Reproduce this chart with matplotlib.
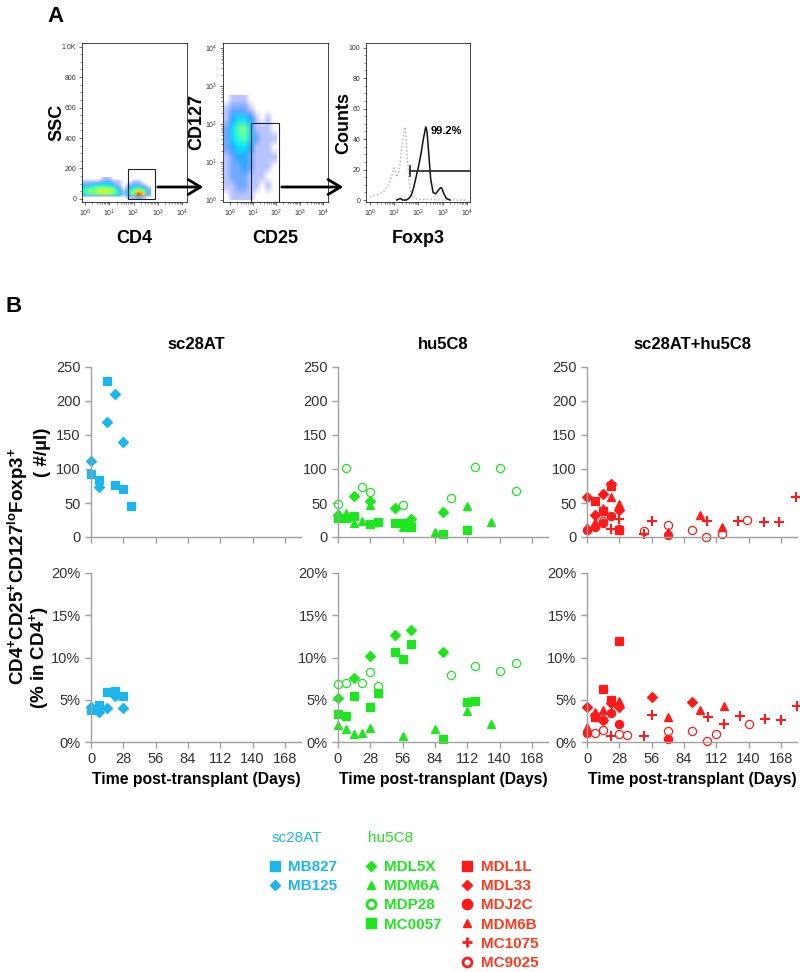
import numpy as np
import matplotlib.pyplot as plt
from matplotlib.lines import Line2D
from matplotlib.patches import Rectangle, FancyArrowPatch

plt.rcParams['font.family'] = ['Liberation Sans', 'DejaVu Sans']
plt.rcParams['mathtext.default'] = 'regular'

W, H = 800, 972

cyan = '#1cb6ec'
green = '#1ee61e'
red = '#ff1a1a'
red_txt = '#ff3a1c'

# ---------------- panel A data ----------------
# SSC vs CD4: density, rows SSC 0..140 step 20, cols log10(CD4) -0.1..2.7 step 0.2
cd4_density = [
    [0, 0, 0, 0, 0, 0, 0, 0, 0, 1, 1, 2, 1, 0],
    [3, 4, 4, 5, 5, 5, 4, 3, 1, 3, 5, 9, 7, 2],
    [4, 5, 5, 6, 6, 6, 5, 3, 1, 3, 5, 7, 5, 2],
    [3, 4, 4, 5, 5, 5, 4, 2, 0, 2, 3, 4, 3, 1],
    [2, 2, 3, 3, 3, 3, 2, 1, 0, 1, 2, 2, 1, 0],
    [1, 1, 1, 1, 2, 2, 1, 1, 0, 0, 1, 1, 0, 0],
    [0, 0, 0, 0, 1, 1, 0, 0, 0, 0, 0, 0, 0, 0],
]
# CD127 vs CD25: rows log10(CD127) 0..2.75 step 0.25, cols log10(CD25) -0.25..2.0 step 0.25
cd25_density = [
    [0, 1, 1, 1, 1, 0, 0, 0, 0],
    [1, 1, 2, 2, 1, 1, 0, 1, 0],
    [1, 2, 2, 2, 1, 1, 1, 0, 0],
    [1, 2, 2, 3, 2, 1, 1, 1, 0],
    [1, 2, 3, 3, 2, 1, 1, 1, 1],
    [2, 3, 4, 4, 3, 1, 1, 1, 0],
    [2, 4, 5, 6, 4, 2, 1, 1, 1],
    [2, 4, 6, 7, 4, 1, 1, 1, 0],
    [1, 3, 4, 4, 3, 1, 0, 1, 0],
    [1, 2, 2, 2, 1, 0, 0, 0, 0],
    [0, 1, 1, 1, 0, 0, 0, 0, 0],
]
# Foxp3 histograms (x = log10 intensity, y = counts)
iso_x = [0.0, 0.2, 0.4, 0.6, 0.8, 0.9, 1.0, 1.05, 1.1, 1.2, 1.3, 1.4, 1.45, 1.5, 1.6, 1.7, 1.8, 2.0, 2.5, 3.0, 4.0]
iso_y = [2, 3, 4, 6, 11, 16, 21, 19, 15, 19, 32, 45, 48, 38, 14, 3, 1, 0.5, 0.3, 0, 0]
foxp3_x = [1.1, 1.25, 1.35, 1.5, 1.6, 1.7, 1.8, 1.9, 2.0, 2.1, 2.2, 2.3, 2.35, 2.4, 2.5, 2.6, 2.7, 2.8, 2.9, 2.95, 3.05, 3.15, 3.3]
foxp3_y = [0, 1, 0, 0, 1, 3, 8, 15, 22, 30, 40, 48, 45, 35, 14, 5, 4, 6, 8, 8, 4, 1, 0]

# ---------------- panel B data: (days, value) ----------------
MB827_cnt = ([0, 7, 14, 21, 28, 35], [93, 84, 230, 77, 71, 46])
MB827_pct = ([0, 7, 14, 21, 28], [3.8, 4.4, 5.9, 6.0, 5.4])
MB125_cnt = ([0, 7, 14, 21, 28], [112, 74, 169, 210, 139])
MB125_pct = ([0, 7, 14, 21, 28], [4.2, 3.6, 4.0, 5.4, 4.0])

MDL5X_cnt = ([0, 14, 28, 49, 63, 91], [33, 60, 53, 42, 27, 37])
MDL5X_pct = ([0, 14, 28, 49, 63, 91], [5.2, 7.6, 10.2, 12.7, 13.2, 10.7])
MDM6A_cnt = ([0, 7, 14, 21, 28, 56, 84, 112, 133], [35, 35, 20, 24, 47, 14, 7, 46, 22])
MDM6A_pct = ([0, 7, 14, 21, 28, 56, 84, 112, 133], [2.0, 1.5, 1.0, 1.1, 1.7, 0.7, 1.5, 3.7, 2.1])
MDP28_cnt = ([0, 7, 21, 28, 56, 98, 119, 140, 154], [49, 101, 74, 66, 47, 57, 103, 102, 68])
MDP28_pct = ([0, 7, 21, 28, 35, 98, 119, 140, 154], [6.9, 7.0, 7.0, 8.3, 6.6, 7.9, 9.0, 8.4, 9.3])
MC0057_cnt = ([0, 7, 14, 28, 35, 49, 56, 63, 91, 112], [28, 28, 31, 19, 22, 20, 20, 15, 4, 10])
MC0057_pct = ([0, 7, 14, 28, 35, 49, 56, 63, 91, 112, 119], [3.3, 3.1, 5.5, 4.1, 5.8, 10.7, 9.8, 11.6, 0.3, 4.7, 4.8])

MDL1L_cnt = ([7, 14, 21, 28], [53, 38, 75, 11])
MDL1L_pct = ([7, 14, 21, 28], [3.0, 6.3, 5.0, 12.0])
MDL33_cnt = ([0, 7, 14, 21, 28], [59, 33, 63, 78, 39])
MDL33_pct = ([0, 7, 14, 21, 28, 56, 91], [4.2, 3.2, 2.6, 4.6, 4.2, 5.3, 4.7])
MDJ2C_cnt = ([0, 7, 14, 21, 28, 70], [10, 14, 20, 31, 12, 3])
MDJ2C_pct = ([0, 7, 14, 21, 28, 70], [1.1, 3.0, 2.6, 3.4, 2.1, 0.4])
MDM6B_cnt = ([0, 7, 14, 21, 28, 70, 98, 117], [15, 22, 42, 59, 49, 8, 33, 15])
MDM6B_pct = ([0, 7, 14, 28, 70, 98, 119], [1.8, 3.6, 3.8, 4.8, 3.0, 3.8, 4.3])
MC1075_cnt = ([21, 28, 49, 56, 104, 131, 153, 166, 181], [12, 26, 4, 23, 23, 23, 22, 22, 59])
MC1075_pct = ([21, 49, 56, 105, 119, 133, 154, 168, 182], [0.7, 0.7, 3.2, 2.9, 2.1, 3.1, 2.7, 2.6, 4.3])
MC9025_cnt = ([14, 49, 70, 91, 103, 117, 139], [24, 9, 17, 11, 0, 5, 25])
MC9025_pct = ([7, 14, 28, 35, 70, 91, 104, 112, 140], [1.1, 1.4, 0.9, 0.8, 1.3, 1.3, 0.1, 0.9, 2.1])

day_ticks = [0, 28, 56, 84, 112, 140, 168]
cnt_ticks = [0, 50, 100, 150, 200, 250]
pct_ticks = [0, 5, 10, 15, 20]

# (name, marker, filled, cnt, pct)
groups = [
    ('sc28AT', cyan, [('MB827', 's', True, MB827_cnt, MB827_pct),
                      ('MB125', 'D', True, MB125_cnt, MB125_pct)]),
    ('hu5C8', green, [('MDL5X', 'D', True, MDL5X_cnt, MDL5X_pct),
                      ('MDM6A', '^', True, MDM6A_cnt, MDM6A_pct),
                      ('MDP28', 'o', False, MDP28_cnt, MDP28_pct),
                      ('MC0057', 's', True, MC0057_cnt, MC0057_pct)]),
    ('sc28AT+hu5C8', red, [('MDL1L', 's', True, MDL1L_cnt, MDL1L_pct),
                           ('MDL33', 'D', True, MDL33_cnt, MDL33_pct),
                           ('MDJ2C', 'o', True, MDJ2C_cnt, MDJ2C_pct),
                           ('MDM6B', '^', True, MDM6B_cnt, MDM6B_pct),
                           ('MC1075', '+', True, MC1075_cnt, MC1075_pct),
                           ('MC9025', 'o', False, MC9025_cnt, MC9025_pct)]),
]
msize = {'s': 6.0, 'D': 4.7, '^': 5.8, 'o': 5.9, '+': 6.5}


def box(l, t, r, b):
    return [l / W, 1 - b / H, (r - l) / W, (b - t) / H]


def fig_xy(x, y):
    return (x / W, 1 - y / H)


fig = plt.figure(figsize=(W / 100, H / 100), dpi=100)


# ---------------- panel A ----------------
def flow_style(ax):
    for s in ax.spines.values():
        s.set_linewidth(0.6)
        s.set_color('#222222')
    ax.tick_params(which='both', direction='out', labelsize=5, colors='#333333', pad=1.5)
    ax.tick_params(which='major', length=2.5, width=0.5)
    ax.tick_params(which='minor', length=1.5, width=0.4)


def log_axis(axis, lo, hi):
    axis.set_ticks(range(lo, hi + 1))
    axis.set_ticklabels([r'$10^{%d}$' % n for n in range(lo, hi + 1)])
    axis.set_ticks([n + np.log10(k) for n in range(lo, hi) for k in range(2, 10)], minor=True)


def density(ax, grid, extent, step, amax, alim):
    g = np.array(grid, float)
    rgba = plt.cm.jet(0.12 + step * g)
    rgba[..., 3] = np.clip(g / amax, 0, alim)
    ax.imshow(rgba, extent=extent, origin='lower', aspect='auto', interpolation='bilinear')


lab = dict(fontsize=13, fontweight='bold')

a1 = fig.add_axes(box(82, 43, 187, 202))
density(a1, cd4_density, [-0.1, 2.7, 0, 140], 0.08, 3.0, 1.0)
a1.add_patch(Rectangle((1.77, 0), 1.12, 195, fill=False, lw=0.8, ec='#222222'))
a1.set_xlim(-0.12, 4.2)
a1.set_ylim(-20, 1024)
log_axis(a1.xaxis, 0, 4)
a1.set_yticks([0, 200, 400, 600, 800, 1000])
a1.set_yticklabels(['0', '200', '400', '600', '800', '1.0K'])
a1.set_yticks(range(0, 1000, 50), minor=True)
flow_style(a1)
a1.set_xlabel('CD4', labelpad=8, **lab)
a1.set_ylabel('SSC', **lab)
a1.yaxis.set_label_coords(-0.16, 0.5)

a2 = fig.add_axes(box(223, 43, 328, 202))
density(a2, cd25_density, [-0.25, 2.0, 0, 2.75], 0.055, 3.5, 0.95)
a2.add_patch(Rectangle((0.9, -0.05), 1.2, 2.08, fill=False, lw=0.8, ec='#222222'))
a2.set_xlim(-0.3, 4.22)
a2.set_ylim(-0.05, 4.13)
log_axis(a2.xaxis, 0, 4)
log_axis(a2.yaxis, 0, 4)
flow_style(a2)
a2.set_xlabel('CD25', labelpad=8, **lab)
a2.set_ylabel('CD127', **lab)
a2.yaxis.set_label_coords(-0.165, 0.5)

a3 = fig.add_axes(box(366, 43, 470, 202))
a3.plot(iso_x, iso_y, color='#b0b0b0', lw=1.0, ls=':')
a3.plot(foxp3_x, foxp3_y, color='#111111', lw=1.1)
a3.plot([1.66, 4.12], [19, 19], color='#222222', lw=1.2, clip_on=False)
a3.plot([1.66, 1.66], [16, 22], color='#222222', lw=1.2)
a3.text(2.5, 45, '99.2%', fontsize=8, fontweight='bold', va='center')
a3.set_xlim(-0.16, 4.12)
a3.set_ylim(-1.3, 103)
log_axis(a3.xaxis, 0, 4)
a3.set_yticks([0, 20, 40, 60, 80, 100])
a3.set_yticks(range(0, 100, 5), minor=True)
flow_style(a3)
a3.set_xlabel('Foxp3', labelpad=8, **lab)
a3.set_ylabel('Counts', **lab)
a3.yaxis.set_label_coords(-0.13, 0.5)

for x0, x1 in [(155, 206), (279, 346)]:
    fig.add_artist(FancyArrowPatch(fig_xy(x0, 187), fig_xy(x1, 187), transform=fig.transFigure,
                                   arrowstyle='->,head_length=0.5,head_width=0.3',
                                   mutation_scale=18, lw=2, color='k'))

fig.text(*fig_xy(55, 16), 'A', fontsize=16, fontweight='bold', ha='center', va='center')
fig.text(*fig_xy(14, 307), 'B', fontsize=16, fontweight='bold', ha='center', va='center')

# ---------------- panel B ----------------
lefts = [91, 338, 587]


def b_style(ax):
    for side in ['top', 'right']:
        ax.spines[side].set_visible(False)
    for side in ['left', 'bottom']:
        ax.spines[side].set_color('#a0a0a0')
        ax.spines[side].set_linewidth(1.0)
    ax.tick_params(direction='out', length=4.5, width=1.0, color='#a0a0a0',
                   labelsize=10.5, labelcolor='#333333', pad=3)
    ax.set_xlim(0, 182)
    ax.set_xticks(day_ticks)


for i, (title, col, series) in enumerate(groups):
    l = lefts[i]
    ac = fig.add_axes(box(l, 367, l + 210, 537))
    ap = fig.add_axes(box(l, 573, l + 210, 742))
    for name, mk, filled, cnt, pct in series:
        kw = dict(ls='none', marker=mk, ms=msize[mk], color=col,
                  mfc=col if filled else 'none', mew=1.5 if mk == '+' else 0.9, clip_on=False)
        ac.plot(cnt[0], cnt[1], **kw)
        ap.plot(pct[0], pct[1], **kw)
    b_style(ac)
    b_style(ap)
    ac.set_ylim(0, 250)
    ac.set_yticks(cnt_ticks)
    ac.set_xticklabels([])
    ap.set_ylim(0, 20)
    ap.set_yticks(pct_ticks)
    ap.set_yticklabels(['%d%%' % v for v in pct_ticks])
    ac.set_title(title, fontsize=12, fontweight='bold', pad=13)
    ap.set_xlabel('Time post-transplant (Days)', fontsize=11.3, fontweight='bold', labelpad=4)
    if i == 0:
        ac.set_ylabel('( #/µl)', fontsize=13.5, fontweight='bold')
        ap.set_ylabel('(% in CD4$^{+}$)', fontsize=13.5, fontweight='bold')
        ac.yaxis.set_label_coords(-0.19, 0.5)
        ap.yaxis.set_label_coords(-0.19, 0.5)

fig.text(*fig_xy(18, 566), 'CD4$^{+}$CD25$^{+}$CD127$^{lo}$Foxp3$^{+}$', rotation=90,
         fontsize=13.5, fontweight='bold', ha='center', va='center')

# ---------------- legends ----------------
for (title, col, series), (hx, mx) in zip(groups, [(272, 268.5), (368, 364.5), (None, 461)]):
    handles = [Line2D([], [], ls='none', marker=mk, ms=msize[mk] + 0.5, color=col,
                      mfc=col if filled else 'none', mew=2.0 if mk in '+o' else 1.0)
               for name, mk, filled, cnt, pct in series]
    tcol = red_txt if col == red else col
    fig.legend(handles, [s[0] for s in series], loc='upper left', bbox_to_anchor=fig_xy(mx, 860),
               frameon=False, prop=dict(weight='bold', size=11), labelcolor=tcol,
               handlelength=0.8, handletextpad=0.5, labelspacing=0.34, borderpad=0, borderaxespad=0)
    if hx is not None:
        fig.text(*fig_xy(hx, 838), title, fontsize=11, color=col, va='center')

fig.savefig('out.png', dpi=100)
